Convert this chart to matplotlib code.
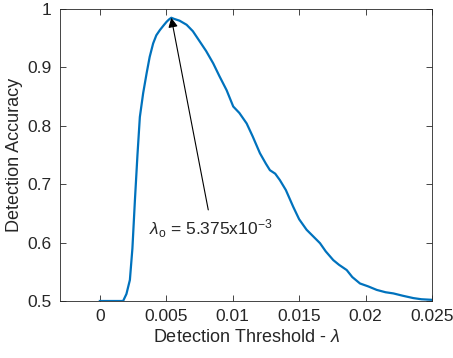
import numpy as np
import matplotlib
matplotlib.use("Agg")
import matplotlib.pyplot as plt

plt.rcParams['font.family'] = ['Liberation Sans', 'DejaVu Sans']
plt.rcParams['mathtext.fontset'] = 'custom'
plt.rcParams['mathtext.rm'] = 'Liberation Sans'
plt.rcParams['mathtext.it'] = 'Liberation Sans:italic'

# detection threshold vs accuracy
threshold = [0.0, 0.0010, 0.00175, 0.00200, 0.00226, 0.00245, 0.00264, 0.00283, 0.00301,
             0.00326, 0.00352, 0.00375, 0.00401, 0.00425, 0.00452, 0.00480, 0.00502,
             0.00520, 0.005375, 0.00560, 0.00600, 0.00653, 0.00700, 0.00753, 0.00800,
             0.00853, 0.00900, 0.00954, 0.01004, 0.01050, 0.01105, 0.01150, 0.01205,
             0.01250, 0.01280, 0.01320, 0.01355, 0.01400, 0.01456, 0.01500, 0.01556,
             0.01600, 0.01657, 0.01700, 0.01757, 0.01800, 0.01858, 0.01900, 0.01958,
             0.02020, 0.02084, 0.02150, 0.02209, 0.02280, 0.02359, 0.02420, 0.02500]
accuracy = [0.500, 0.500, 0.500, 0.512, 0.536, 0.590, 0.673, 0.750, 0.815,
            0.856, 0.890, 0.918, 0.941, 0.955, 0.964, 0.972, 0.978,
            0.982, 0.985, 0.983, 0.980, 0.973, 0.962, 0.944, 0.928,
            0.907, 0.885, 0.861, 0.833, 0.822, 0.804, 0.782, 0.753,
            0.735, 0.724, 0.718, 0.707, 0.690, 0.661, 0.640, 0.622,
            0.612, 0.599, 0.585, 0.570, 0.562, 0.553, 0.541, 0.530,
            0.525, 0.519, 0.515, 0.513, 0.509, 0.505, 0.503, 0.502]

peak_x = 0.005375
peak_y = 0.985

xticks = [0, 0.005, 0.01, 0.015, 0.02, 0.025]
xticklabels = ['0', '0.005', '0.01', '0.015', '0.02', '0.025']
yticks = [0.5, 0.6, 0.7, 0.8, 0.9, 1.0]
yticklabels = ['0.5', '0.6', '0.7', '0.8', '0.9', '1']

fig = plt.figure(figsize=(4.53, 3.58), dpi=100)
ax = fig.add_axes([60/453, 1 - 301/358, (432-60)/453, (301-9)/358])

ax.plot(threshold, accuracy, color='#0072BD', linewidth=1.6)

ax.annotate('', xy=(peak_x, peak_y), xytext=(0.00816, 0.656),
            arrowprops=dict(arrowstyle='-|>', color='black', lw=0.8,
                            mutation_scale=14, shrinkA=0, shrinkB=0))
ax.text(0.0037, 0.624, r'$\lambda_{\mathrm{o}}$ = 5.375x10$^{\mathrm{-3}}$',
        fontsize=12.5, color='#262626', va='center', ha='left')

ax.set_xlim(-0.003, 0.025)
ax.set_ylim(0.5, 1.0)
ax.set_xticks(xticks)
ax.set_xticklabels(xticklabels)
ax.set_yticks(yticks)
ax.set_yticklabels(yticklabels)

ax.tick_params(direction='in', top=True, right=True, length=4, width=0.6,
               colors='#262626', labelsize=12.5, pad=6)
for s in ax.spines.values():
    s.set_color('#262626')
    s.set_linewidth(0.6)

ax.set_xlabel(r'Detection Threshold - $\lambda$', fontsize=13, color='#262626', labelpad=3)
ax.set_ylabel('Detection Accuracy', fontsize=13, color='#262626', labelpad=3)

fig.savefig('out.png', dpi=100)
